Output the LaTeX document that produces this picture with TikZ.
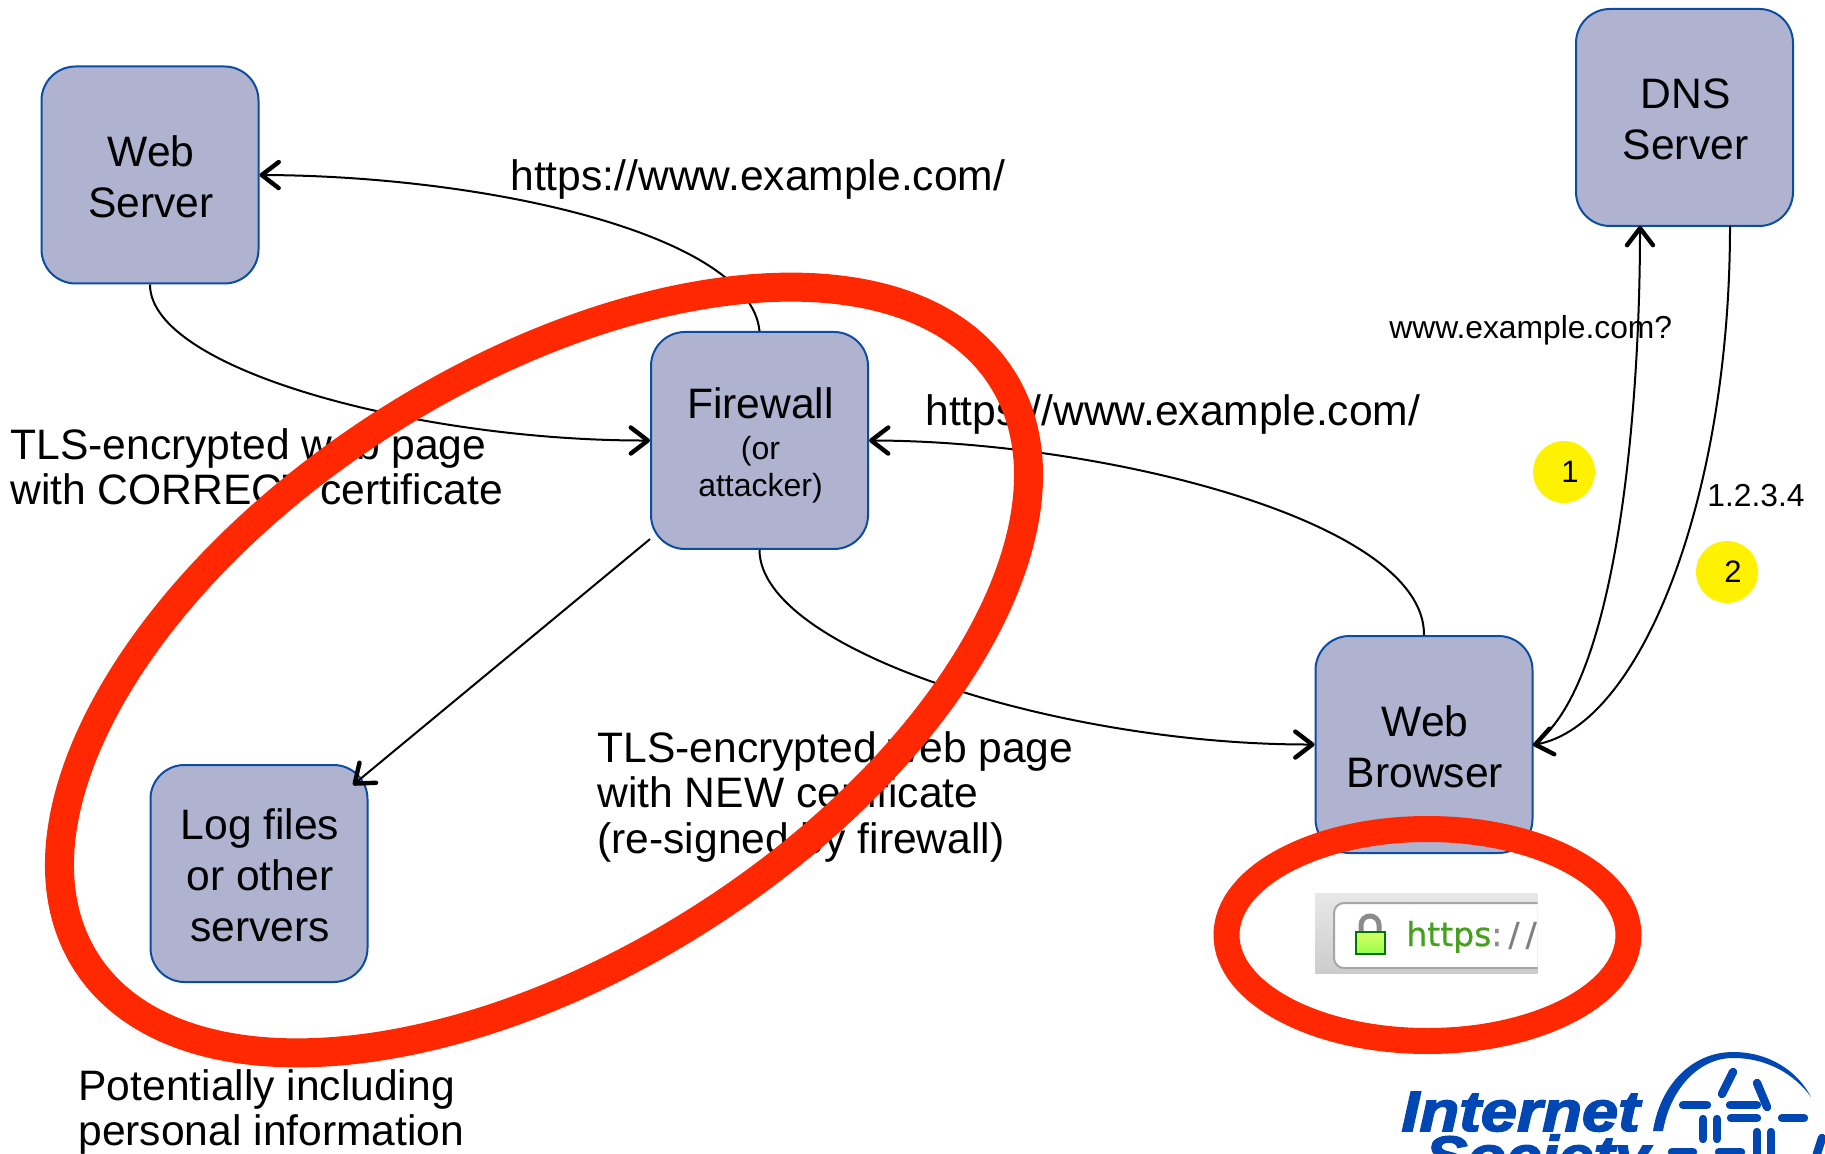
\documentclass[tikz,border=0pt]{standalone}
\usepackage{fontspec}
\setmainfont{Liberation Sans}
\newfontfamily\urlfont[FakeBold=0.6]{DejaVu Sans}
\newfontfamily\logofont[BoldItalicFeatures={FakeBold=2.6}]{Liberation Sans}
\usetikzlibrary{arrows.meta}
\definecolor{boxfill}{RGB}{176,179,208}
\definecolor{boxline}{RGB}{11,77,162}
\definecolor{ringred}{RGB}{255,40,0}
\definecolor{isocblue}{RGB}{0,71,179}
\definecolor{urlgreen}{RGB}{70,160,30}
\newcommand{\fwsmall}{\fontsize{16pt}{18.6pt}\selectfont}
\newcommand{\bl}[1]{\raisebox{-1.1pt}[\height][\depth]{\hspace*{1pt}#1}}
\newcommand{\bm}[1]{\raisebox{-2.4pt}[\height][\depth]{\hspace*{1pt}#1}}
\tikzset{
  px/.style={x=0.5pt,y=-0.5pt},
  sbox/.style={draw=boxline,fill=boxfill,line width=1pt,rounded corners=17pt,minimum width=108.5pt,minimum height=108.5pt,inner sep=0pt,align=center,font=\fontsize{21.3pt}{25.5pt}\selectfont},
  conn/.style={draw=black,line width=1pt,-{Straight Barb[length=8.5pt,width=13pt,line width=2.2pt,round]}},
  lab/.style={inner sep=0pt,anchor=north west,align=left,font=\fontsize{21.3pt}{22.8pt}\selectfont},
  ring/.style={draw=ringred,line width=14.5pt},
  ringsmall/.style={draw=ringred,line width=13pt},
  badge/.style={circle,fill=yellow,minimum size=31pt,inner sep=0pt,font=\fontsize{15.5pt}{18pt}\selectfont},
  small/.style={inner sep=0pt,anchor=base west,font=\fontsize{15.9pt}{18pt}\selectfont},
  dashlogo/.style={draw=isocblue,line width=4.2pt,line cap=round},
  logotext/.style={inner sep=0pt,anchor=base west,text=isocblue,xscale=1.14,font=\logofont\fontsize{28.5pt}{30pt}\bfseries\itshape\selectfont}
}
\begin{document}
\begin{tikzpicture}[px]
\useasboundingbox (0,0) rectangle (1825,1154);
\fill[white] (0,0) rectangle (1825,1154);
% boxes
\node[sbox] (web) at (150,175) {\bl{Web}\\\bl{Server}};
\node[sbox] (dns) at (1684.5,117.5) {\bl{DNS}\\\bl{Server}};
\node[sbox] (fw) at (759.5,440.5) {\bm{Firewall}\\[-4.7pt]\fwsmall \bm{(or}\\[-7pt]\fwsmall \bm{attacker)}};
\node[sbox] (br) at (1424,744.5) {\bl{Web}\\\bl{Browser}};
\node[sbox] (log) at (259,873.5) {\bl{Log files}\\\bl{or other}\\\bl{servers}};
\coordinate (logtip) at (353,785);
\coordinate (dnsin) at (1640,226);
\coordinate (dnsout) at (1730,226);
\coordinate (brside) at (1533,745);
% connectors
\draw[conn] (fw.north) .. controls (750,235) and (490,176) .. (web.east);
\draw[conn] (web.south) .. controls (150,370) and (420,441) .. (fw.west);
\draw[conn] (br.north) .. controls (1425,520) and (1100,441) .. (fw.east);
\draw[conn] (fw.south) .. controls (760,650) and (1060,745) .. (br.west);
\draw[conn] (fw.222.5) -- (logtip);
\draw[conn] (brside) .. controls (1615,690) and (1640,420) .. (dnsin);
\draw[conn] (dnsout) .. controls (1730,500) and (1640,725) .. (brside);
% labels
\node[lab] (url1) at (510,159) {https://www.example.com/};
\node[lab] (url2) at (925,394) {https://www.example.com/};
\node[lab] (tls1) at (10,428) {TLS-encrypted web page\\with CORRECT certificate};
\node[lab] (tls2) at (597,731) {TLS-encrypted web page\\with NEW certificate\\(re-signed by firewall)};
\node[lab] (pot) at (78,1069) {Potentially including\\personal information};
\node[small] (q) at (1389,339) {www.example.com?};
\node[small] (ip) at (1707,507) {1.2.3.4};
\node[badge] (b1) at (1564,472) {\hspace{6pt}1};
\node[badge] (b2) at (1727,572) {\hspace{6pt}2};
% address bar
\begin{scope}
\clip (1315,893) rectangle (1537.5,973);
\shade[top color=black!9,bottom color=black!20] (1315,893) rectangle (1537.5,973);
\draw[draw=black!35,fill=white,line width=1pt,rounded corners=5pt] (1334,903) rectangle (1600,968);
\draw[black!45,line width=2.5pt] (1361,934) -- (1361,925) arc[start angle=180,end angle=0,radius=4.5pt] -- (1379,934);
\draw[draw=green!45!black,top color=green!25!yellow!60,bottom color=green!60!yellow!70,line width=1pt] (1356,932) rectangle (1385,954);
\node[inner sep=0pt,anchor=base west,font=\urlfont\fontsize{16.5pt}{18pt}\selectfont] (scheme) at (1406,946) {\textcolor{urlgreen}{https}\textcolor{black!45}{:}\hspace{3pt}\textcolor{black!50}{/}\hspace{3pt}\textcolor{black!50}{/}};
\end{scope}
% logo
\begin{scope}
\clip (0,0) rectangle (1825,1154);
\node[logotext] (isoc1) at (1401,1131) {Internet};
\node[logotext,xscale=0.97] (isoc2) at (1425,1176) {Society};
\fill[isocblue] (1653,1131) .. controls (1660,1085) and (1692,1052) .. (1733,1052)
   .. controls (1768,1052) and (1797,1070) .. (1811,1097)
   .. controls (1795,1075) and (1768,1058) .. (1733,1058)
   .. controls (1698,1058) and (1670,1090) .. (1663,1131) -- cycle;
\draw[dashlogo] (1733,1072) -- (1722,1094);
\draw[dashlogo] (1757,1083) -- (1767,1107);
\draw[dashlogo] (1683,1105) -- (1707,1105);
\draw[dashlogo] (1730,1105) -- (1757,1105);
\draw[dashlogo] (1731,1118) -- (1757,1118);
\draw[dashlogo] (1782,1118) -- (1804,1118);
\draw[dashlogo] (1703,1119) -- (1703,1139);
\draw[dashlogo] (1717,1119) -- (1717,1139);
\draw[dashlogo] (1757,1132) -- (1757,1160);
\draw[dashlogo] (1771,1132) -- (1771,1160);
\draw[dashlogo] (1672,1152) -- (1693,1152);
\draw[dashlogo] (1719,1152) -- (1741,1152);
\draw[dashlogo] (1822,1138) -- (1815,1160);
\end{scope}
% red rings
\draw[ring] (544,670) ellipse[x radius=271.5pt,y radius=147pt,rotate=32.5];
\draw[ringsmall] (1427.5,935) ellipse[x radius=100.5pt,y radius=53pt];
\end{tikzpicture}
\end{document}
